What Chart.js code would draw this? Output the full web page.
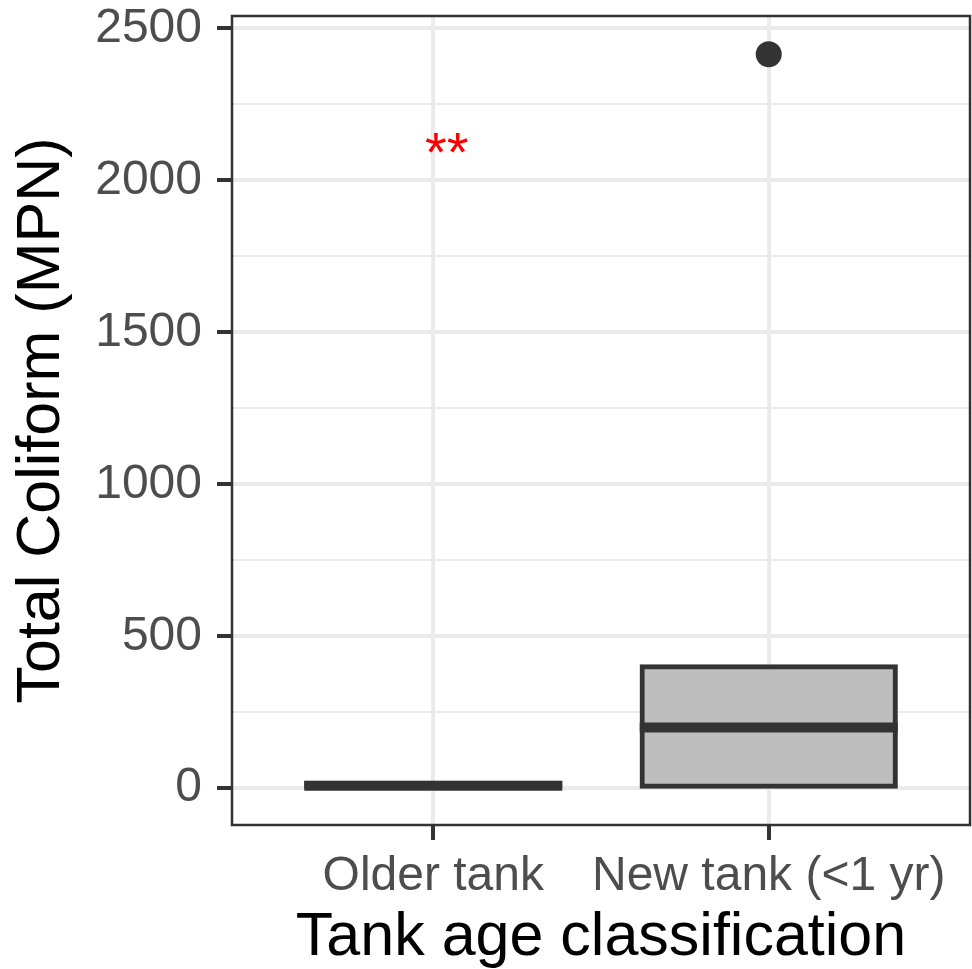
<!DOCTYPE html>
<html>
<head>
<meta charset="utf-8">
<script src="https://cdn.jsdelivr.net/npm/chart.js@4.4.1/dist/chart.umd.min.js"></script>
<style>
  html, body { margin: 0; padding: 0; background: #fff; }
  #wrap { width: 972px; height: 969px; }
</style>
</head>
<body>
<div id="wrap"><canvas id="coliformChart"></canvas></div>

<script>
  // values
  var categories = ['Older tank', 'New tank (<1 yr)'];
  var q1 = [0, 0];
  var medians = [8, 200];
  var q3 = [16, 400];
  var outliers = [[], [2415]];
  var yTicks = [0, 500, 1000, 1500, 2000, 2500];
  var yMinor = [250, 750, 1250, 1750, 2250];
  // significance mark
  var signifText = ['**'];
  var signifX = [1.04];
  var signifY = [2030];

  var FONT = '"Liberation Sans", Arial, sans-serif';
  Chart.defaults.font.family = FONT;

  var boxData = categories.map(function (c, i) { return { x: i + 1, y: [q1[i], q3[i]] }; });
  var medianData = categories.map(function (c, i) { return { x: i + 1, y: medians[i] }; });
  var outlierData = [];
  outliers.forEach(function (list, i) {
    list.forEach(function (v) { outlierData.push({ x: i + 1, y: v }); });
  });

  function isMajor(v) { return yTicks.indexOf(v) >= 0; }

  // panel border + "**" text
  var extras = {
    id: 'extras',
    afterDatasetsDraw: function (chart) {
      var ctx = chart.ctx, a = chart.chartArea;
      var xs = chart.scales.x, ys = chart.scales.y;
      ctx.save();
      ctx.font = '56px ' + FONT;
      ctx.fillStyle = '#ff0000';
      ctx.textAlign = 'center';
      ctx.textBaseline = 'alphabetic';
      for (var i = 0; i < signifText.length; i++) {
        ctx.fillText(signifText[i], xs.getPixelForValue(signifX[i]), ys.getPixelForValue(signifY[i]));
      }
      ctx.strokeStyle = '#333333';
      ctx.lineWidth = 2.5;
      ctx.strokeRect(a.left, a.top, a.right - a.left, a.bottom - a.top);
      ctx.restore();
    }
  };

  var ctxColi = document.getElementById('coliformChart').getContext('2d');
  var coliformChart = new Chart(ctxColi, {
    type: 'bar',
    data: {
      datasets: [{
        type: 'scatter',
        label: 'median',
        data: medianData,
        pointStyle: 'line',
        pointRadius: 129,
        pointHoverRadius: 129,
        borderWidth: 10,
        borderColor: '#333333',
        order: 1
      }, {
        type: 'scatter',
        label: 'outliers',
        data: outlierData,
        pointRadius: 13,
        backgroundColor: '#333333',
        borderWidth: 0,
        order: 1
      }, {
        type: 'bar',
        label: 'box',
        data: boxData,
        backgroundColor: '#bebebe',
        borderColor: '#333333',
        borderWidth: 5,
        borderSkipped: false,
        inflateAmount: 2.5,   // let the outline straddle the box edges like ggplot
        barPercentage: 0.755,
        categoryPercentage: 1,
        order: 3
      }]
    },
    options: {
      responsive: true,
      maintainAspectRatio: false,
      animation: false,
      layout: { autoPadding: false, padding: { top: 16, right: 2, left: 0, bottom: 0 } },
      plugins: { legend: { display: false }, tooltip: { enabled: false } },
      scales: {
        x: {
          type: 'linear',
          offset: false,
          min: 0.4,
          max: 2.6,
          afterBuildTicks: function (s) {
            s.ticks = categories.map(function (c, i) { return { value: i + 1 }; });
          },
          afterFit: function (s) {
            s.height = 144;
            s.paddingLeft = 0;
            s.paddingRight = 0;
          },
          ticks: {
            callback: function (v) { return categories[v - 1]; },
            autoSkip: false,
            maxRotation: 0,
            color: '#4d4d4d',
            font: { size: 48 },
            padding: 8
          },
          grid: {
            offset: false,
            color: '#ebebeb',
            lineWidth: 4,
            tickColor: '#333333',
            tickLength: 15,
            tickWidth: 4
          },
          border: { display: false },
          title: {
            display: true,
            text: 'Tank age classification',
            color: '#000',
            font: { size: 61, lineHeight: 1.0 },
            padding: { top: 0, bottom: 0 }
          }
        },
        y: {
          min: -121,
          max: 2541,
          afterBuildTicks: function (s) {
            s.ticks = yTicks.concat(yMinor).sort(function (a, b) { return a - b; })
              .map(function (v) { return { value: v }; });
          },
          afterFit: function (s) {
            s.width = 232;
            s.paddingTop = 0;
            s.paddingBottom = 0;
          },
          ticks: {
            callback: function (v) { return isMajor(v) ? String(v) : ''; },
            autoSkip: false,
            color: '#4d4d4d',
            font: { size: 48 },
            padding: 15
          },
          grid: {
            color: '#ebebeb',
            lineWidth: function (c) { return isMajor(c.tick.value) ? 4 : 2; },
            tickColor: function (c) { return isMajor(c.tick.value) ? '#333333' : 'rgba(0,0,0,0)'; },
            tickLength: 15,
            tickWidth: 4
          },
          border: { display: false },
          title: {
            display: true,
            text: 'Total Coliform (MPN)',
            color: '#000',
            font: { size: 61, lineHeight: 1.2 },
            padding: { top: 6, bottom: 0 }
          }
        }
      }
    },
    plugins: [extras]
  });
</script>
</body>
</html>
